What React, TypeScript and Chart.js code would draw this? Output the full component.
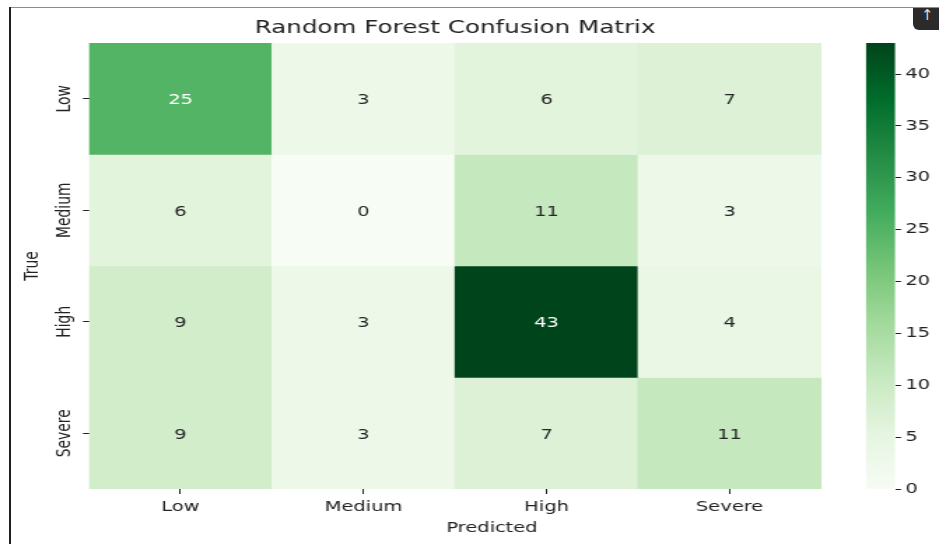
import React, { useEffect, useRef } from "react";
import { Chart, registerables } from "chart.js";

Chart.register(...registerables);

// ---- data ----
const chartTitle = "Random Forest Confusion Matrix";
const predictedLabels = ["Low", "Medium", "High", "Severe"];
const trueLabels = ["Low", "Medium", "High", "Severe"];
const rowLow = [25, 3, 6, 7];
const rowMedium = [6, 0, 11, 3];
const rowHigh = [9, 3, 43, 4];
const rowSevere = [9, 3, 7, 11];
const matrixRows = [rowLow, rowMedium, rowHigh, rowSevere];
const colorbarTicks = [0, 5, 10, 15, 20, 25, 30, 35, 40];
const xAxisTitle = "Predicted";
const yAxisTitle = "True";

// ---- colormap (matplotlib "Greens") ----
const GREENS = ["#f7fcf5", "#e5f5e0", "#c7e9c0", "#a1d99b", "#74c476", "#41ab5d", "#238b45", "#006d2c", "#00441b"];
const GREENS_RGB = GREENS.map((h) => [parseInt(h.slice(1, 3), 16), parseInt(h.slice(3, 5), 16), parseInt(h.slice(5, 7), 16)]);
const VMIN = 0;
const VMAX = Math.max(...matrixRows.flat());

function greens(t: number): number[] {
  const tt = Math.max(0, Math.min(1, t));
  const p = tt * (GREENS_RGB.length - 1);
  const i = Math.min(Math.floor(p), GREENS_RGB.length - 2);
  const f = p - i;
  const a = GREENS_RGB[i];
  const b = GREENS_RGB[i + 1];
  return a.map((v, k) => Math.round(v + (b[k] - v) * f));
}
function rgbStr(c: number[]) {
  return `rgb(${c[0]},${c[1]},${c[2]})`;
}
function relLum(c: number[]) {
  const l = c.map((v) => {
    const x = v / 255;
    return x <= 0.03928 ? x / 12.92 : Math.pow((x + 0.055) / 1.055, 2.4);
  });
  return 0.2126 * l[0] + 0.7152 * l[1] + 0.0722 * l[2];
}
const colorFor = (v: number) => greens((v - VMIN) / (VMAX - VMIN));

// ---- layout (internal canvas px; canvas is horizontally stretched like the reference) ----
const SCREEN_W = 939;
const SCREEN_H = 544;
const STRETCH = 1.4;
const CANVAS_W = Math.round(SCREEN_W / STRETCH);
const SX = SCREEN_W / CANVAS_W;
const X_MAX = 4.404; // heatmap spans 0..4, colorbar at the right end
const CB_X0 = 4.246;
const FONT = "DejaVu Sans";
const TEXT = "#222222";
const TICK_FONT = { family: FONT, size: 13.9 };

const extrasPlugin = {
  id: "heatExtras",
  beforeDatasetsDraw(chart: any) {
    const { ctx } = chart;
    const xs = chart.scales.x;
    const yc = chart.scales.yc;
    const left = xs.getPixelForValue(CB_X0);
    const right = xs.getPixelForValue(X_MAX);
    const top = yc.getPixelForValue(VMAX);
    const bottom = yc.getPixelForValue(VMIN);
    const g = ctx.createLinearGradient(0, bottom, 0, top);
    GREENS.forEach((c, k) => g.addColorStop(k / (GREENS.length - 1), c));
    ctx.save();
    ctx.fillStyle = g;
    ctx.fillRect(left, top, right - left, bottom - top);
    ctx.restore();
  },
  afterDatasetsDraw(chart: any) {
    const { ctx } = chart;
    ctx.save();
    ctx.font = `${TICK_FONT.size}px "${FONT}"`;
    ctx.textAlign = "center";
    ctx.textBaseline = "middle";
    matrixRows.forEach((row, i) => {
      const meta = chart.getDatasetMeta(i);
      row.forEach((v, j) => {
        const el = meta.data[j];
        if (!el) return;
        const p = el.getProps(["x", "y", "base"], true);
        ctx.fillStyle = relLum(colorFor(v)) > 0.408 ? "#262626" : "#ffffff";
        ctx.fillText(String(v), p.x, (p.y + p.base) / 2 + 2);
      });
    });
    ctx.restore();
  },
  afterDraw(chart: any) {
    const { ctx } = chart;
    const xs = chart.scales.x;
    const ys = chart.scales.y;
    ctx.save();
    ctx.fillStyle = TEXT;
    ctx.textAlign = "center";
    ctx.textBaseline = "middle";
    ctx.font = `17.6px "${FONT}"`;
    ctx.fillText(chartTitle, xs.getPixelForValue(predictedLabels.length / 2), 28);
    ctx.font = `${TICK_FONT.size}px "${FONT}"`;
    trueLabels.forEach((lab, i) => {
      const y = ys.getPixelForValue(i + 0.5);
      ctx.save();
      ctx.translate(ys.right - 17.2, y);
      ctx.rotate(-Math.PI / 2);
      ctx.fillText(lab, 0, 0);
      ctx.restore();
    });
    ctx.restore();
  },
};

export default function App() {
  const ref = useRef<HTMLCanvasElement | null>(null);

  useEffect(() => {
    if (!ref.current) return;
    const datasets = matrixRows.map((row, i) => ({
      type: "bar" as const,
      label: trueLabels[i],
      data: row.map((v, j) => ({ x: j + 0.5, y: [i, i + 1] })),
      backgroundColor: row.map((v) => rgbStr(colorFor(v))),
      borderWidth: 0,
      grouped: false,
      barPercentage: 1,
      categoryPercentage: 1,
      xAxisID: "x",
      yAxisID: "y",
    }));

    const chart = new Chart(ref.current, {
      type: "bar",
      data: { datasets: datasets as any },
      plugins: [extrasPlugin],
      options: {
        animation: false,
        responsive: false,
        devicePixelRatio: 1,
        layout: { padding: { left: 0, right: 0, top: 43, bottom: 0 } },
        plugins: { legend: { display: false }, tooltip: { enabled: false }, title: { display: false } },
        scales: {
          x: {
            type: "linear",
            position: "bottom",
            min: 0,
            max: X_MAX,
            offset: false,
            afterBuildTicks: (s: any) => {
              s.ticks = predictedLabels.map((_, j) => ({ value: j + 0.5 }));
            },
            ticks: {
              autoSkip: false,
              maxRotation: 0,
              padding: 5,
              font: TICK_FONT,
              color: TEXT,
              callback: (v: any) => predictedLabels[Math.round(Number(v) - 0.5)] ?? "",
            },
            grid: { display: true, drawOnChartArea: false, drawTicks: true, tickLength: 5, color: TEXT, lineWidth: 1, offset: false },
            border: { display: false },
            title: { display: true, text: xAxisTitle, font: TICK_FONT, color: TEXT, padding: { top: 0, bottom: 7.7 } },
            afterFit: (s: any) => {
              s.height = 55;
            },
          },
          y: {
            type: "linear",
            position: "left",
            min: 0,
            max: trueLabels.length,
            reverse: true,
            afterBuildTicks: (s: any) => {
              s.ticks = trueLabels.map((_, i) => ({ value: i + 0.5 }));
            },
            ticks: { display: false },
            grid: { display: true, drawOnChartArea: false, drawTicks: true, tickLength: 4.3, color: TEXT, lineWidth: 1 },
            border: { display: false },
            title: { display: true, text: yAxisTitle, font: TICK_FONT, color: TEXT, padding: { top: 15.3, bottom: 0 } },
            afterFit: (s: any) => {
              s.width = 89 / SX;
            },
          },
          yc: {
            type: "linear",
            position: "right",
            min: VMIN,
            max: VMAX,
            afterBuildTicks: (s: any) => {
              s.ticks = colorbarTicks.map((v) => ({ value: v }));
            },
            ticks: { padding: 3.1, font: TICK_FONT, color: TEXT, callback: (v: any) => String(v) },
            grid: { display: true, drawOnChartArea: false, drawTicks: true, tickLength: 4.3, color: TEXT, lineWidth: 1 },
            border: { display: false },
            afterFit: (s: any) => {
              s.width = CANVAS_W - 895 / SX;
            },
          },
        },
      } as any,
    });
    return () => chart.destroy();
  }, []);

  return (
    <div style={{ position: "fixed", left: 0, top: 0, width: SCREEN_W, height: SCREEN_H, background: "#ffffff", overflow: "hidden" }}>
      <canvas
        ref={ref}
        width={CANVAS_W}
        height={SCREEN_H}
        style={{ position: "absolute", left: 0, top: 0, width: `${SCREEN_W}px`, height: `${SCREEN_H}px`, display: "block" }}
      />
      <div style={{ position: "absolute", left: 9, top: 7, width: SCREEN_W - 9, height: 1, background: "#8c8c8c" }} />
      <div style={{ position: "absolute", left: 9, top: 7, width: 2, height: SCREEN_H - 7, background: "#1f1f1f" }} />
      <div
        style={{
          position: "absolute",
          left: 913,
          top: 8,
          width: 30,
          height: 22,
          background: "#2b2b2b",
          borderBottomLeftRadius: 6,
          color: "#dddddd",
          fontFamily: FONT,
          fontSize: 15,
          lineHeight: "14px",
          paddingLeft: 8,
          boxSizing: "border-box",
          overflow: "hidden",
        }}
      >
        ↑
      </div>
    </div>
  );
}
